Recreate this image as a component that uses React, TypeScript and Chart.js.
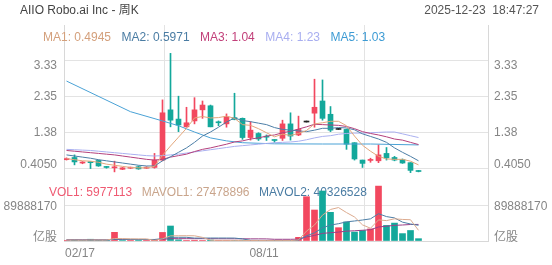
import React, { useEffect, useRef } from 'react';
import { Chart, registerables } from 'chart.js';

Chart.register(...registerables);

// ---------- text ----------
const title = 'AIIO Robo.ai Inc - 周K';
const stamp = '2025-12-23  18:47:27';
const maLegend = ['MA1: 0.4945', 'MA2: 0.5971', 'MA3: 1.04', 'MA4: 1.23', 'MA5: 1.03'];
const volLegend = ['VOL1: 5977113', 'MAVOL1: 27478896', 'MAVOL2: 40326528'];

// ---------- axes ----------
const priceTicks = [0.405, 1.38, 2.355, 3.33];
const priceTickLabels = ['0.4050', '1.38', '2.35', '3.33'];
const volTicks = [0, 89888170];
const volTickLabels = ['亿股', '89888170'];
const xTickWeeks = [0, 25, 50];
const xTickLabels = ['02/17', '08/11', ''];

// ---------- weekly candles (week 0 = 02/17) ----------
const opens = [0.63, 0.69, 0.54, 0.57, 0.61, 0.43, 0.41, 0.37, 0.40, 0.44, 0.40, 0.42, 0.62, 1.98, 1.73, 1.52, 1.68, 1.98, 2.09, 1.65, 1.60, 1.77, 1.75, 1.23, 1.34, 1.25, 1.17, 1.21, 1.60, 1.30, 1.65, 1.89, 2.22, 1.86, 1.45, 1.45, 1.09, 0.62, 0.61, 0.60, 0.80, 0.69, 0.63, 0.55, 0.33];
const closes = [0.66, 0.57, 0.56, 0.55, 0.46, 0.42, 0.42, 0.41, 0.41, 0.38, 0.42, 0.62, 1.90, 1.70, 1.57, 1.63, 1.98, 2.11, 1.52, 1.63, 1.79, 1.72, 1.23, 1.43, 1.19, 1.24, 1.15, 1.60, 1.27, 1.45, 1.65, 2.05, 1.75, 1.43, 1.45, 1.05, 0.65, 0.53, 0.62, 0.76, 0.68, 0.62, 0.54, 0.34, 0.31];
const highs = [0.68, 0.76, 0.58, 0.57, 0.62, 0.45, 0.59, 0.42, 0.43, 0.46, 0.44, 0.80, 2.25, 3.51, 2.35, 2.05, 2.31, 2.22, 2.11, 1.68, 1.87, 2.43, 1.76, 1.66, 1.36, 1.30, 1.17, 1.70, 1.90, 1.81, 1.65, 2.81, 2.79, 2.07, 1.45, 1.46, 1.09, 0.62, 0.67, 1.03, 0.96, 0.72, 0.65, 0.55, 0.34];
const lows = [0.62, 0.49, 0.52, 0.39, 0.45, 0.40, 0.30, 0.36, 0.39, 0.37, 0.39, 0.40, 0.60, 1.52, 1.39, 1.51, 1.60, 1.75, 1.52, 1.55, 1.51, 1.71, 1.18, 1.16, 1.15, 1.15, 1.10, 1.15, 1.16, 1.28, 1.65, 1.51, 1.70, 1.39, 1.45, 0.91, 0.62, 0.42, 0.56, 0.55, 0.62, 0.60, 0.53, 0.28, 0.30];
const volumes = [1500000, 2500000, 1500000, 4500000, 2000000, 1500000, 22300000, 1200000, 1000000, 1500000, 1000000, 3000000, 22000000, 38500000, 3000000, 1500000, 2000000, 1500000, 2500000, 1000000, 1200000, 1500000, 1200000, 1000000, 1000000, 800000, 800000, 1500000, 1200000, 9500000, 113800000, 79600000, 128400000, 73700000, 34200000, 49000000, 23000000, 27000000, 31000000, 141000000, 40000000, 46000000, 19000000, 27000000, 5977113];

// ---------- moving-average lines as read ----------
const ma1 = [0.66, 0.63, 0.60, 0.59, 0.56, 0.51, 0.48, 0.45, 0.42, 0.41, 0.41, 0.45, 0.75, 1.00, 1.24, 1.48, 1.76, 1.80, 1.76, 1.77, 1.81, 1.75, 1.58, 1.56, 1.47, 1.36, 1.25, 1.32, 1.29, 1.34, 1.42, 1.60, 1.63, 1.67, 1.67, 1.55, 1.27, 1.02, 0.86, 0.72, 0.65, 0.64, 0.64, 0.59, 0.49];
const ma2 = [0.76, 0.73, 0.70, 0.67, 0.63, 0.60, 0.57, 0.54, 0.51, 0.48, 0.46, 0.46, 0.60, 0.71, 0.83, 0.95, 1.10, 1.27, 1.38, 1.51, 1.65, 1.76, 1.69, 1.66, 1.62, 1.58, 1.50, 1.45, 1.43, 1.41, 1.39, 1.43, 1.48, 1.48, 1.50, 1.49, 1.44, 1.33, 1.26, 1.19, 1.10, 0.95, 0.83, 0.72, 0.60];
const ma3 = [0.88, 0.86, 0.84, 0.82, 0.80, 0.78, 0.76, 0.73, 0.70, 0.67, 0.64, 0.62, 0.64, 0.70, 0.74, 0.78, 0.85, 0.91, 0.95, 1.00, 1.05, 1.11, 1.14, 1.19, 1.22, 1.27, 1.30, 1.36, 1.40, 1.46, 1.52, 1.59, 1.58, 1.57, 1.56, 1.53, 1.47, 1.39, 1.34, 1.30, 1.25, 1.19, 1.16, 1.10, 1.04];
const ma4 = [0.91, 0.90, 0.89, 0.88, 0.86, 0.84, 0.82, 0.80, 0.78, 0.76, 0.74, 0.73, 0.74, 0.76, 0.78, 0.81, 0.84, 0.87, 0.90, 0.93, 0.96, 0.99, 1.01, 1.03, 1.05, 1.07, 1.09, 1.10, 1.11, 1.13, 1.17, 1.22, 1.26, 1.28, 1.32, 1.34, 1.35, 1.35, 1.36, 1.37, 1.38, 1.38, 1.33, 1.28, 1.23];
const ma5Weeks = [0, 8, 12, 14, 16, 18, 20, 22, 26, 32, 38, 44];
const ma5Values = [2.76, 1.93, 1.68, 1.55, 1.38, 1.22, 1.14, 1.09, 1.06, 1.055, 1.055, 1.03];

const mavol1 = [2.5, 2.4, 2.2, 2.6, 2.4, 2.4, 6.4, 6.3, 5.6, 5.5, 5.4, 1.5, 5.7, 13.2, 13.5, 13.6, 13.4, 9.3, 2.1, 1.7, 1.64, 1.54, 1.48, 1.18, 1.18, 1.1, 0.96, 1.02, 1.06, 2.76, 25.4, 41.1, 66.5, 81.0, 85.9, 73.0, 61.7, 41.4, 32.8, 54.2, 52.4, 57.0, 55.4, 54.6, 27.48];
const mavol2 = [2.6, 2.6, 2.5, 2.6, 2.5, 2.5, 4.4, 4.3, 4.2, 3.95, 3.9, 3.95, 6.0, 9.4, 9.5, 9.5, 7.5, 7.5, 7.65, 7.6, 7.6, 7.5, 5.4, 1.64, 1.44, 1.37, 1.25, 1.25, 1.12, 1.97, 13.2, 21.0, 33.8, 41.0, 44.4, 49.2, 51.4, 53.9, 56.9, 70.1, 62.7, 59.3, 48.4, 43.7, 40.33];
const mavol3 = [3.2, 3.2, 3.1, 3.1, 3.0, 3.0, 3.9, 3.9, 3.8, 3.8, 3.7, 3.7, 4.2, 6.0, 6.0, 6.0, 6.0, 6.0, 6.0, 5.8, 5.76, 5.7, 5.7, 5.5, 5.5, 5.4, 4.4, 4.4, 4.4, 4.8, 10.4, 14.3, 19.6, 21.3, 22.9, 25.3, 26.3, 27.6, 29.0, 36.0, 38.0, 40.2, 41.1, 42.4, 42.6];

// ---------- styling ----------
const UP = '#f2485f';
const DOWN = '#13a89b';
const FLAT = '#222222';
const maLineColors = ['#e3a77c', '#4c7ea6', '#b4407c', '#aab0f0', '#4aa2d6'];
const maTextColors = ['#d4a07c', '#4a7ca3', '#c2407a', '#a8aef0', '#3d9bd4'];
const volLineColors = ['#dcaa8e', '#4c7ea6', '#9a3f88'];
const volTextColors = ['#ef5a72', '#c9a58c', '#4a7ca3'];
const FONT = '12px "Liberation Sans", Arial, "Noto Sans CJK SC", sans-serif';
const LABEL = '#858585';
const GRID = '#e3e3e3';
const BORDER = '#d8d8d8';
const SHIFT = 0.3125; // candle centre offset from the week grid line

const idx = closes.map((_, i) => i);
const candleColor = idx.map(i => (closes[i] > opens[i] ? UP : closes[i] < opens[i] ? DOWN : FLAT));
const volColor = idx.map(i => {
  const ref = i === 0 ? opens[0] : closes[i - 1];
  return closes[i] >= ref ? UP : DOWN;
});

const priceAlign = ['bottom', 'middle', 'middle', 'top'];
const volAlign = ['bottom', 'middle'];

const overlay = {
  id: 'overlay',
  beforeDatasetsDraw(chart: any) {
    const ctx = chart.ctx;
    ctx.save();
    ctx.font = FONT;
    ctx.textAlign = 'left';
    ctx.textBaseline = 'alphabetic';
    let x = 43;
    maLegend.forEach((t, i) => {
      ctx.fillStyle = maTextColors[i];
      ctx.fillText(t, x, 40.5);
      x += ctx.measureText(t).width + 10.5;
    });
    x = 49;
    volLegend.forEach((t, i) => {
      ctx.fillStyle = volTextColors[i];
      ctx.fillText(t, x, 196);
      x += ctx.measureText(t).width + 9.5;
    });
    ctx.restore();
  },
  afterDraw(chart: any) {
    const ctx = chart.ctx;
    const area = chart.chartArea;
    ctx.save();
    ctx.font = FONT;
    ctx.textBaseline = 'alphabetic';
    // header
    ctx.fillStyle = '#444';
    ctx.textAlign = 'left';
    ctx.fillText(title, 20, 14);
    ctx.fillStyle = '#555';
    ctx.textAlign = 'right';
    ctx.fillText(stamp, 539, 14);

    const drawY = (scale: any, ticks: number[], labels: string[], align: string[]) => {
      ticks.forEach((v, i) => {
        const py = scale.getPixelForValue(v);
        let base = py + 4.3;
        if (align[i] === 'top') base = py + 8.6;
        if (align[i] === 'bottom') base = py - 0.5;
        ctx.fillStyle = LABEL;
        ctx.textAlign = 'right';
        ctx.fillText(labels[i], area.left - 7, base);
        ctx.textAlign = 'left';
        ctx.fillText(labels[i], area.right + 6, base);
      });
    };
    drawY(chart.scales.y, priceTicks, priceTickLabels, priceAlign);
    drawY(chart.scales.v, volTicks, volTickLabels, volAlign);

    const xs = chart.scales.x;
    ctx.fillStyle = LABEL;
    ctx.textAlign = 'left';
    xTickWeeks.forEach((w, i) => {
      const t = xTickLabels[i];
      if (!t) return;
      const px = xs.getPixelForValue(w - SHIFT);
      const wdt = ctx.measureText(t).width;
      const left = Math.max(px - wdt / 2, area.left + 1);
      ctx.fillText(t, left, 256.5);
    });
    ctx.restore();
  },
};

const yAxisBase = (pos: 'left' | 'right') => ({
  type: 'linear' as const,
  position: pos,
  ticks: { display: false },
  grid: { display: pos === 'left', color: GRID, lineWidth: 1, drawTicks: false, tickLength: 0 },
  border: { display: true, color: BORDER, width: 1 },
  afterFit: (s: any) => {
    s.width = 64;
  },
});

const priceScale = (pos: 'left' | 'right', weight: number) => ({
  ...yAxisBase(pos),
  stack: pos,
  stackWeight: 157,
  weight,
  min: 0.026,
  max: 4.278,
  afterBuildTicks: (s: any) => {
    s.ticks = priceTicks.map(v => ({ value: v }));
  },
});

const volScale = (pos: 'left' | 'right', weight: number) => ({
  ...yAxisBase(pos),
  stack: pos,
  stackWeight: 59,
  weight,
  min: 0,
  max: 151525771,
  afterBuildTicks: (s: any) => {
    s.ticks = volTicks.map(v => ({ value: v }));
  },
});

function buildConfig(): any {
  const line = (data: any[], color: string, axis: string) => ({
    type: 'line',
    data,
    yAxisID: axis,
    borderColor: color,
    borderWidth: 1,
    pointRadius: 0,
    fill: false,
    tension: 0,
    spanGaps: true,
    order: 0,
  });
  return {
    type: 'bar',
    data: {
      datasets: [
        {
          data: idx.map(i => ({ x: i, y: [lows[i], highs[i]] })),
          backgroundColor: candleColor,
          barThickness: 1,
          grouped: false,
          minBarLength: 1,
          yAxisID: 'y',
          order: 2,
        },
        {
          data: idx.map(i => ({ x: i, y: [opens[i], closes[i]] })),
          backgroundColor: candleColor,
          barThickness: 5,
          grouped: false,
          minBarLength: 1,
          yAxisID: 'y',
          order: 1,
        },
        {
          data: idx.map(i => ({ x: i, y: volumes[i] })),
          backgroundColor: volColor,
          barThickness: 6,
          grouped: false,
          yAxisID: 'v',
          order: 1,
        },
        line(idx.map(i => ({ x: i, y: ma1[i] })), maLineColors[0], 'y'),
        line(idx.map(i => ({ x: i, y: ma2[i] })), maLineColors[1], 'y'),
        line(idx.map(i => ({ x: i, y: ma3[i] })), maLineColors[2], 'y'),
        line(idx.map(i => ({ x: i, y: ma4[i] })), maLineColors[3], 'y'),
        line(ma5Weeks.map((w, k) => ({ x: w, y: ma5Values[k] })), maLineColors[4], 'y'),
        line(idx.map(i => ({ x: i, y: mavol1[i] * 1e6 })), volLineColors[0], 'v'),
        line(idx.map(i => ({ x: i, y: mavol2[i] * 1e6 })), volLineColors[1], 'v'),
        line(idx.map(i => ({ x: i, y: mavol3[i] * 1e6 })), volLineColors[2], 'v'),
      ],
    },
    options: {
      responsive: false,
      animation: false,
      events: [],
      layout: { padding: { top: 25, left: 0, right: 0, bottom: 0 } },
      plugins: { legend: { display: false }, tooltip: { enabled: false }, title: { display: false } },
      scales: {
        x: {
          type: 'linear',
          position: 'bottom',
          offset: false,
          min: -SHIFT,
          max: 53 - SHIFT,
          afterBuildTicks: (s: any) => {
            s.ticks = xTickWeeks.map(w => ({ value: w - SHIFT }));
          },
          ticks: { display: false },
          grid: { color: GRID, lineWidth: 1, drawTicks: false, tickLength: 0 },
          border: { display: true, color: BORDER, width: 1 },
          afterFit: (s: any) => {
            s.height = 24;
          },
        },
        y: priceScale('left', 2),
        v: volScale('left', 1),
        yR: priceScale('right', 1),
        vR: volScale('right', 2),
      },
    },
    plugins: [overlay],
  };
}

export default function App() {
  const ref = useRef<HTMLCanvasElement>(null);
  useEffect(() => {
    if (!ref.current) return;
    const chart = new Chart(ref.current, buildConfig());
    return () => chart.destroy();
  }, []);
  return (
    <div style={{ position: 'fixed', left: 0, top: 0, width: 552, height: 265, background: '#fff' }}>
      <canvas ref={ref} width={552} height={265} style={{ display: 'block', width: 552, height: 265 }} />
    </div>
  );
}
